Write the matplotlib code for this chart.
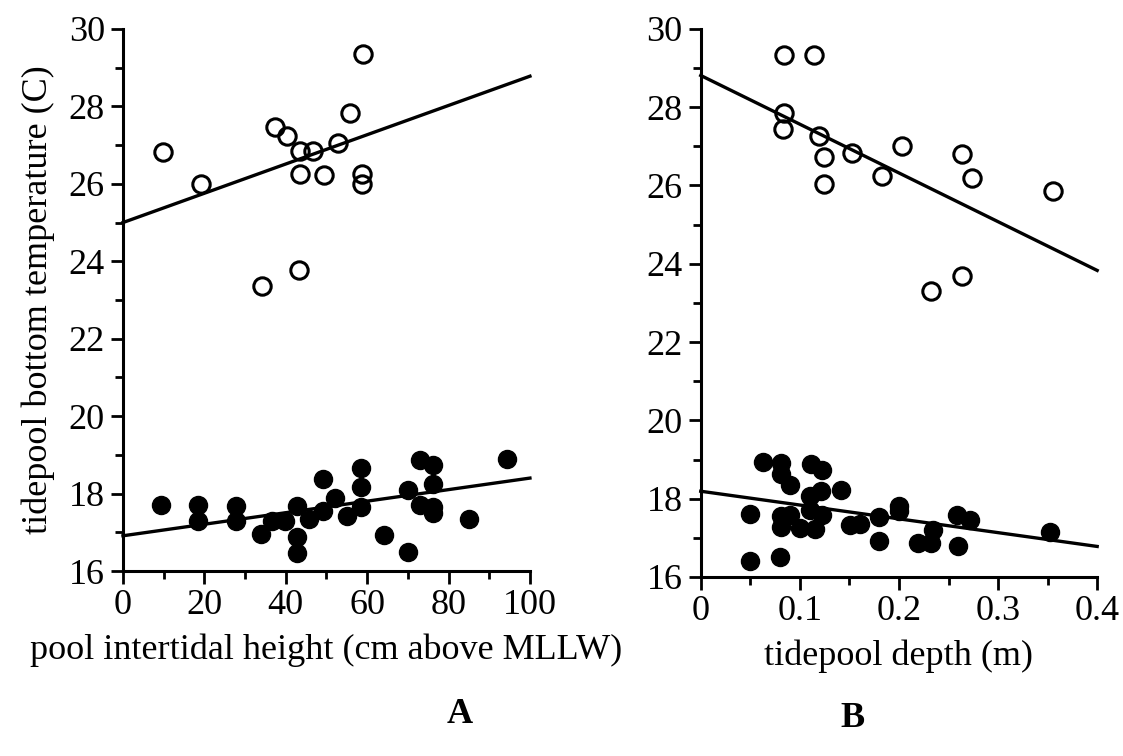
import matplotlib
matplotlib.use("Agg")
import matplotlib.pyplot as plt
from matplotlib.ticker import MultipleLocator, FuncFormatter

plt.rcParams['font.family'] = ['Liberation Serif', 'DejaVu Serif']

# ---- Panel A data: pool intertidal height (cm above MLLW) ----
a_open_x = [9.9, 19.1, 37.3, 40.4, 43.5, 46.8, 52.9, 55.9, 58.9, 43.5, 49.4, 58.8, 58.8, 34.2, 43.2]
a_open_y = [26.81, 26.0, 27.47, 27.24, 26.86, 26.84, 27.05, 27.83, 29.35, 26.25, 26.24, 26.25, 26.0, 23.37, 23.78]
a_fill_x = [9.3, 18.5, 18.5, 27.7, 27.7, 33.8, 36.5, 39.8, 42.8, 42.8, 42.8, 45.8, 49.1, 49.1, 52.1,
            55.0, 58.4, 58.4, 58.4, 64.1, 70.1, 70.1, 73.1, 73.1, 76.2, 76.2, 76.2, 76.2, 85.1, 94.4]
a_fill_y = [17.71, 17.71, 17.30, 17.68, 17.28, 16.96, 17.28, 17.28, 17.68, 16.89, 16.46, 17.34, 18.37, 17.56, 17.88,
            17.41, 18.66, 18.18, 17.65, 16.93, 18.10, 16.50, 18.87, 17.71, 18.74, 18.25, 17.65, 17.49, 17.35, 18.89]
a_fit_x = [0, 100]
a_fit_open_y = [25.0, 28.78]
a_fit_fill_y = [16.91, 18.40]

# ---- Panel B data: tidepool depth (m) ----
b_open_x = [0.084, 0.114, 0.084, 0.083, 0.119, 0.124, 0.124, 0.153, 0.1825, 0.203, 0.264, 0.274, 0.355, 0.232, 0.264]
b_open_y = [29.34, 29.34, 27.84, 27.43, 27.27, 26.72, 26.04, 26.83, 26.23, 27.00, 26.81, 26.19, 25.85, 23.31, 23.68]
b_fill_x = [0.0625, 0.050, 0.050, 0.081, 0.081, 0.090, 0.081, 0.090, 0.081, 0.080, 0.100, 0.111, 0.122, 0.121,
            0.110, 0.110, 0.122, 0.115, 0.142, 0.151, 0.161, 0.180, 0.180, 0.200, 0.200, 0.219, 0.232, 0.234,
            0.259, 0.272, 0.260, 0.352]
b_fill_y = [18.93, 17.61, 16.42, 18.91, 18.64, 18.36, 17.57, 17.59, 17.28, 16.50, 17.25, 18.89, 18.72, 18.19,
            18.06, 17.72, 17.59, 17.23, 18.23, 17.34, 17.36, 17.53, 16.91, 17.82, 17.68, 16.87, 16.87, 17.21,
            17.59, 17.46, 16.78, 17.16]
b_fit_x = [0, 0.4]
b_fit_open_y = [28.81, 23.83]
b_fit_fill_y = [18.19, 16.78]

fig = plt.figure(figsize=(11.23, 7.56), dpi=100)
axA = fig.add_axes([0.1095, 0.2447, 0.3624, 0.717])
axB = fig.add_axes([0.624, 0.2368, 0.353, 0.725])

FS = 26

def style(ax, xlim, xmaj, xmin_, xlabel):
    ax.set_xlim(*xlim)
    ax.set_ylim(16, 30)
    for s in ['top', 'right']:
        ax.spines[s].set_visible(False)
    for s in ['left', 'bottom']:
        ax.spines[s].set_linewidth(2.2)
    ax.xaxis.set_major_locator(MultipleLocator(xmaj))
    ax.xaxis.set_minor_locator(MultipleLocator(xmin_))
    ax.yaxis.set_major_locator(MultipleLocator(2))
    ax.yaxis.set_minor_locator(MultipleLocator(1))
    ax.tick_params(which='major', direction='out', length=9, width=2, labelsize=FS, pad=4, colors='black')
    ax.tick_params(which='minor', direction='out', length=6, width=2)
    ax.set_xlabel(xlabel, fontsize=FS, labelpad=8)

def draw(ax, ox, oy, fx, fy, lx, loy, lfy):
    ax.plot(lx, loy, color='black', lw=2.4, clip_on=False)
    ax.plot(lx, lfy, color='black', lw=2.4, clip_on=False)
    ax.plot(ox, oy, linestyle='none', marker='o', markersize=12.5, markerfacecolor='none',
            markeredgecolor='black', markeredgewidth=2.2, clip_on=False)
    ax.plot(fx, fy, linestyle='none', marker='o', markersize=13, markerfacecolor='black',
            markeredgecolor='black', clip_on=False)

draw(axA, a_open_x, a_open_y, a_fill_x, a_fill_y, a_fit_x, a_fit_open_y, a_fit_fill_y)
draw(axB, b_open_x, b_open_y, b_fill_x, b_fill_y, b_fit_x, b_fit_open_y, b_fit_fill_y)

style(axA, (0, 100), 20, 10, 'pool intertidal height (cm above MLLW)')
style(axB, (0, 0.4), 0.1, 0.05, 'tidepool depth (m)')
axA.xaxis.set_major_formatter(FuncFormatter(lambda v, p: f'{v:.0f}'))
axB.xaxis.set_major_formatter(FuncFormatter(lambda v, p: '0' if abs(v) < 1e-9 else f'{v:.1f}'))
axA.set_ylabel('tidepool bottom temperature (C)', fontsize=FS, labelpad=10)

fig.text(0.409, 0.055, 'A', fontsize=FS, fontweight='bold', ha='center', va='center')
fig.text(0.759, 0.05, 'B', fontsize=FS, fontweight='bold', ha='center', va='center')

fig.savefig('out.png', dpi=100)
